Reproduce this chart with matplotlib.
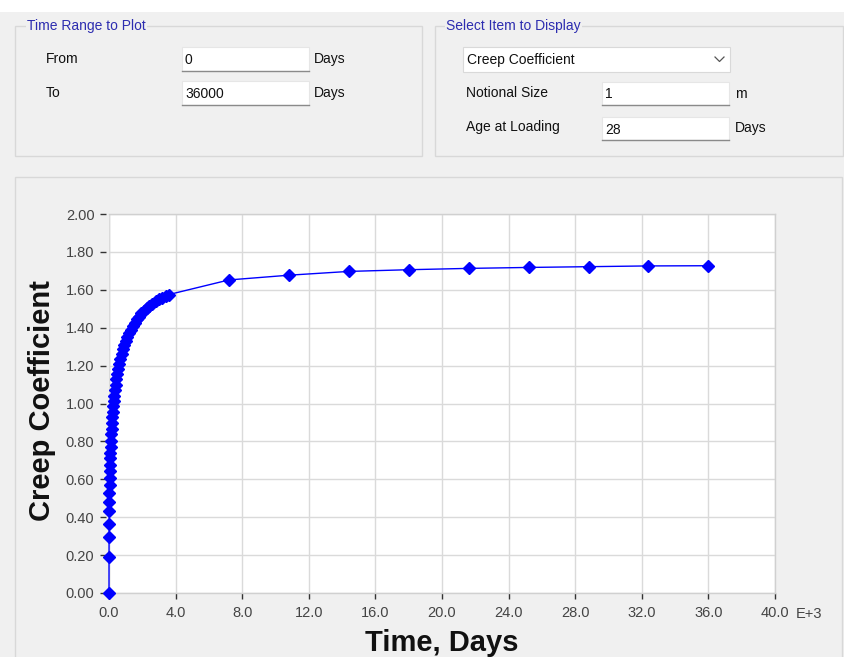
import matplotlib
matplotlib.use("Agg")
import matplotlib.pyplot as plt
from matplotlib.patches import Rectangle
from matplotlib.lines import Line2D

# ---------------- data ----------------
time_kdays = [0.0, 0.001, 0.004, 0.008, 0.014, 0.020, 0.028, 0.036, 0.045, 0.055,
              0.066, 0.078, 0.090, 0.105, 0.120, 0.140, 0.160, 0.180, 0.205, 0.230,
              0.260, 0.290, 0.320, 0.360, 0.400, 0.450, 0.500, 0.560, 0.620, 0.690,
              0.760, 0.840, 0.920, 1.010, 1.100, 1.200, 1.300, 1.420, 1.540, 1.670,
              1.800, 1.950, 2.100, 2.260, 2.430, 2.600, 2.800, 3.000, 3.200, 3.400,
              3.600, 7.200, 10.800, 14.400, 18.000, 21.600, 25.200, 28.800, 32.400, 36.000]
creep_coef = [0.000, 0.190, 0.298, 0.365, 0.432, 0.480, 0.527, 0.568, 0.606, 0.642,
              0.677, 0.710, 0.740, 0.772, 0.802, 0.837, 0.868, 0.896, 0.927, 0.955,
              0.986, 1.014, 1.039, 1.069, 1.097, 1.127, 1.155, 1.184, 1.210, 1.237,
              1.262, 1.287, 1.309, 1.332, 1.352, 1.372, 1.390, 1.410, 1.427, 1.444,
              1.459, 1.475, 1.489, 1.502, 1.515, 1.526, 1.539, 1.550, 1.559, 1.568,
              1.575, 1.652, 1.677, 1.697, 1.706, 1.713, 1.718, 1.722, 1.726, 1.727]

x_ticks = [0, 4, 8, 12, 16, 20, 24, 28, 32, 36, 40]
x_tick_labels = ["0.0", "4.0", "8.0", "12.0", "16.0", "20.0", "24.0", "28.0", "32.0", "36.0", "40.0"]
y_ticks = [0.0, 0.2, 0.4, 0.6, 0.8, 1.0, 1.2, 1.4, 1.6, 1.8, 2.0]
y_tick_labels = ["0.00", "0.20", "0.40", "0.60", "0.80", "1.00", "1.20", "1.40", "1.60", "1.80", "2.00"]

W, H = 845, 657
BG = "#f0f0f0"
FONT = "Liberation Sans"
TITLE_BLUE = "#2d2db0"

fig = plt.figure(figsize=(W / 100, H / 100), dpi=100, facecolor=BG)


def fx(x):
    return x / W


def fy(y):
    return 1 - y / H


def rect(x0, y0, x1, y1, **kw):
    r = Rectangle((fx(x0), fy(y1)), (x1 - x0) / W, (y1 - y0) / H,
                  transform=fig.transFigure, **kw)
    fig.add_artist(r)
    return r


def hline(x0, x1, y, color, lw=1.0):
    fig.add_artist(Line2D([fx(x0), fx(x1)], [fy(y), fy(y)], transform=fig.transFigure,
                          color=color, lw=lw))


def txt(x, y, s, **kw):
    kw.setdefault("family", FONT)
    kw.setdefault("fontsize", 10)
    kw.setdefault("color", "#111111")
    kw.setdefault("va", "center")
    fig.text(fx(x), fy(y), s, **kw)


def textbox(x0, y0, x1, y1, s):
    rect(x0, y0, x1, y1, facecolor="white", edgecolor="#e6e6e6", lw=0.8)
    hline(x0, x1, y1, "#8a8a8a", lw=1.0)
    txt(x0 + 3, (y0 + y1) / 2 + 1, s)


# top white strip
rect(0, 0, W, 12, facecolor="white", edgecolor="none")

# group box 1
rect(15, 26, 422, 156, facecolor="none", edgecolor="#d8d8d8", lw=1.0)
txt(27, 26, "Time Range to Plot", color=TITLE_BLUE,
    bbox=dict(facecolor=BG, edgecolor="none", pad=1.0))
txt(46, 59, "From")
textbox(182, 47, 309, 71, "0")
txt(314, 59, "Days")
txt(46, 93, "To")
textbox(182, 81, 309, 105, "36000")
txt(314, 93, "Days")

# group box 2
rect(435, 26, 843, 156, facecolor="none", edgecolor="#d8d8d8", lw=1.0)
txt(446, 26, "Select Item to Display", color=TITLE_BLUE,
    bbox=dict(facecolor=BG, edgecolor="none", pad=1.0))
rect(463, 47, 730, 72, facecolor="white", edgecolor="#d9d9d9", lw=0.8)
txt(467, 60, "Creep Coefficient")
fig.add_artist(Line2D([fx(715), fx(719.5), fx(724)], [fy(57), fy(61.5), fy(57)],
                      transform=fig.transFigure, color="#555555", lw=0.9))
txt(466, 93, "Notional Size")
textbox(602, 82, 729, 105, "1")
txt(735, 94, "m")
txt(466, 127, "Age at Loading")
textbox(602, 117, 729, 140, "28")
txt(735, 128, "Days")

# lower panel
rect(15, 177, 842, 700, facecolor="none", edgecolor="#d8d8d8", lw=1.0)

# ---------------- chart ----------------
ax = fig.add_axes([fx(109), fy(593), (775 - 109) / W, (593 - 214) / H])
ax.set_facecolor("white")
ax.plot(time_kdays, creep_coef, color="#0000ff", lw=1.0, marker="D", ms=6.5,
        markeredgecolor="#0000ff", markerfacecolor="#0000ff", clip_on=False, zorder=5)
ax.set_xlim(0, 40)
ax.set_ylim(0, 2.0)
ax.set_xticks(x_ticks)
ax.set_xticklabels(x_tick_labels)
ax.set_yticks(y_ticks)
ax.set_yticklabels(y_tick_labels)
ax.grid(True, color="#dadada", lw=1.0)
ax.set_axisbelow(True)
for side in ["top", "right", "bottom", "left"]:
    ax.spines[side].set_color("#d0d0d0")
    ax.spines[side].set_linewidth(1.0)
ax.spines["left"].set_position(("outward", 2))
ax.spines["left"].set_visible(False)
ax.axvline(0, color="#d0d0d0", lw=1.0, zorder=0)
ax.tick_params(axis="both", direction="out", length=4.5, width=1.0, color="#333333",
               labelsize=10.5, labelcolor="#444444")
ax.tick_params(axis="x", pad=5)
ax.tick_params(axis="y", pad=4)
for lab in ax.get_xticklabels() + ax.get_yticklabels():
    lab.set_family(FONT)

txt(796, 614, "E+3", fontsize=10.5, color="#444444", ha="left")

txt(42, 401, "Creep Coefficient", fontsize=21, weight="bold", color="#111111",
    rotation=90, ha="center")
txt(442, 651, "Time, Days", fontsize=21, weight="bold", color="#111111",
    ha="center", va="baseline")

fig.savefig("out.png", dpi=100, facecolor=BG)
